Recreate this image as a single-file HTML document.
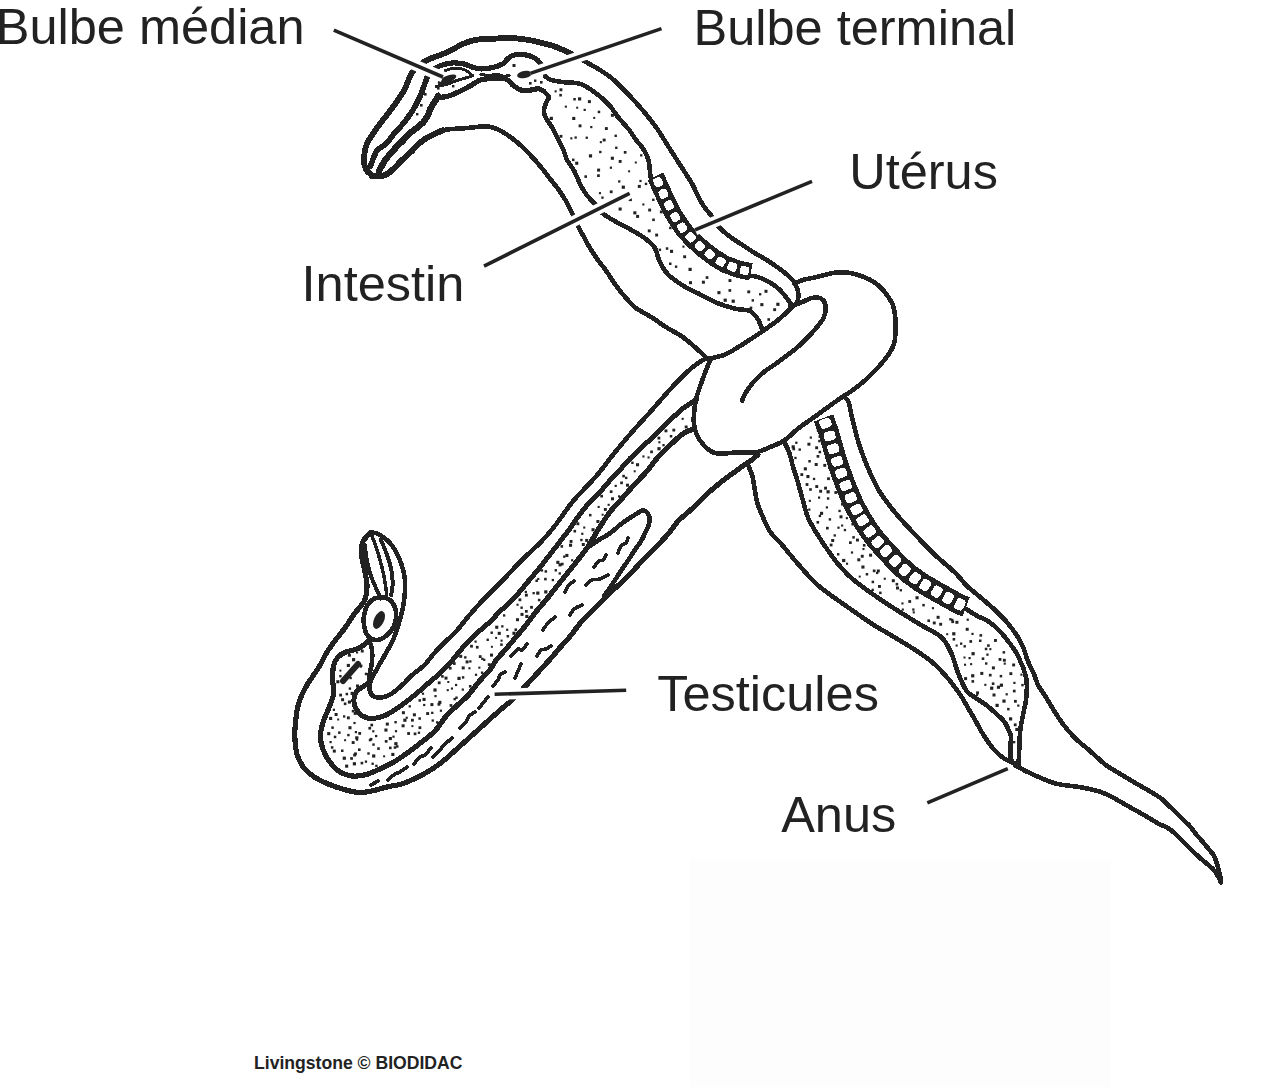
<!DOCTYPE html>
<html><head><meta charset="utf-8"><style>
html,body{margin:0;padding:0;background:#fff;}
svg{display:block;}
text{font-family:"Liberation Sans",sans-serif;fill:#222;}
</style></head><body>
<svg width="1273" height="1087" viewBox="0 0 1273 1087">
<rect width="1273" height="1087" fill="#fff"/><rect x="690" y="859" width="421" height="228" fill="#fdfdfd"/>
<g fill="#222"><rect x="554.6" y="90.3" width="2.1" height="2.1"/><rect x="559.5" y="88.3" width="2.9" height="2.9"/><rect x="559.3" y="93.9" width="2.6" height="2.6"/><rect x="573.3" y="98.0" width="2.5" height="2.5"/><rect x="578.0" y="97.3" width="3.2" height="3.2"/><rect x="587.9" y="100.1" width="3.0" height="3.0"/><rect x="564.8" y="105.6" width="2.1" height="2.1"/><rect x="576.2" y="106.7" width="2.0" height="2.0"/><rect x="583.6" y="108.8" width="2.2" height="2.2"/><rect x="597.7" y="110.7" width="2.5" height="2.5"/><rect x="549.7" y="116.8" width="3.2" height="3.2"/><rect x="572.2" y="116.9" width="3.1" height="3.1"/><rect x="578.6" y="124.4" width="2.9" height="2.9"/><rect x="593.2" y="116.9" width="2.0" height="2.0"/><rect x="610.9" y="113.8" width="3.0" height="3.0"/><rect x="559.6" y="134.9" width="2.8" height="2.8"/><rect x="574.5" y="136.4" width="2.3" height="2.3"/><rect x="590.2" y="126.0" width="2.2" height="2.2"/><rect x="604.9" y="127.1" width="2.9" height="2.9"/><rect x="614.5" y="134.6" width="2.4" height="2.4"/><rect x="570.3" y="137.3" width="2.1" height="2.1"/><rect x="585.6" y="136.6" width="2.3" height="2.3"/><rect x="599.8" y="141.1" width="2.1" height="2.1"/><rect x="602.7" y="138.6" width="2.9" height="2.9"/><rect x="615.1" y="146.6" width="2.4" height="2.4"/><rect x="572.0" y="158.6" width="2.5" height="2.5"/><rect x="588.9" y="154.3" width="3.2" height="3.2"/><rect x="599.1" y="150.8" width="2.4" height="2.4"/><rect x="610.8" y="156.7" width="3.1" height="3.1"/><rect x="623.8" y="151.0" width="2.7" height="2.7"/><rect x="640.1" y="154.2" width="2.3" height="2.3"/><rect x="575.2" y="161.7" width="3.1" height="3.1"/><rect x="597.1" y="168.6" width="3.0" height="3.0"/><rect x="609.8" y="166.6" width="2.2" height="2.2"/><rect x="618.7" y="160.0" width="2.9" height="2.9"/><rect x="634.8" y="161.5" width="2.0" height="2.0"/><rect x="584.4" y="175.3" width="2.6" height="2.6"/><rect x="597.1" y="174.3" width="2.7" height="2.7"/><rect x="618.1" y="180.3" width="2.3" height="2.3"/><rect x="628.1" y="170.3" width="2.0" height="2.0"/><rect x="639.4" y="179.9" width="2.2" height="2.2"/><rect x="598.9" y="192.1" width="2.1" height="2.1"/><rect x="609.8" y="190.4" width="2.8" height="2.8"/><rect x="621.7" y="185.6" width="3.2" height="3.2"/><rect x="637.8" y="184.9" width="3.0" height="3.0"/><rect x="644.8" y="182.7" width="2.4" height="2.4"/><rect x="653.7" y="191.0" width="3.2" height="3.2"/><rect x="601.3" y="196.5" width="2.3" height="2.3"/><rect x="608.9" y="201.5" width="2.1" height="2.1"/><rect x="628.7" y="197.9" width="3.2" height="3.2"/><rect x="642.3" y="203.4" width="2.1" height="2.1"/><rect x="652.1" y="198.6" width="2.4" height="2.4"/><rect x="605.2" y="203.2" width="2.5" height="2.5"/><rect x="618.6" y="207.5" width="3.1" height="3.1"/><rect x="633.3" y="211.3" width="3.1" height="3.1"/><rect x="648.2" y="208.6" width="2.9" height="2.9"/><rect x="659.9" y="210.5" width="2.8" height="2.8"/><rect x="636.1" y="214.9" width="3.0" height="3.0"/><rect x="652.2" y="218.5" width="2.6" height="2.6"/><rect x="647.8" y="229.4" width="2.9" height="2.9"/><rect x="655.2" y="233.6" width="2.9" height="2.9"/><rect x="669.1" y="226.7" width="2.5" height="2.5"/><rect x="665.8" y="247.3" width="2.5" height="2.5"/><rect x="682.4" y="245.6" width="2.1" height="2.1"/><rect x="658.7" y="248.6" width="2.4" height="2.4"/><rect x="670.0" y="249.8" width="3.1" height="3.1"/><rect x="683.2" y="255.3" width="2.9" height="2.9"/><rect x="669.0" y="262.5" width="2.5" height="2.5"/><rect x="674.9" y="265.5" width="2.4" height="2.4"/><rect x="688.5" y="267.8" width="3.2" height="3.2"/><rect x="689.0" y="281.2" width="3.0" height="3.0"/><rect x="701.9" y="280.7" width="3.0" height="3.0"/><rect x="705.7" y="276.2" width="2.7" height="2.7"/><rect x="728.5" y="279.1" width="2.9" height="2.9"/><rect x="717.4" y="291.1" width="3.1" height="3.1"/><rect x="728.5" y="289.1" width="2.7" height="2.7"/><rect x="747.3" y="290.4" width="2.9" height="2.9"/><rect x="759.0" y="293.1" width="2.3" height="2.3"/><rect x="764.5" y="289.8" width="3.0" height="3.0"/><rect x="723.6" y="298.6" width="3.2" height="3.2"/><rect x="731.6" y="299.6" width="3.2" height="3.2"/><rect x="751.6" y="299.2" width="2.4" height="2.4"/><rect x="760.3" y="303.1" width="3.1" height="3.1"/><rect x="776.3" y="302.7" width="3.2" height="3.2"/><rect x="749.7" y="306.6" width="2.6" height="2.6"/><rect x="773.2" y="308.2" width="2.9" height="2.9"/><rect x="767.4" y="318.2" width="2.6" height="2.6"/><rect x="816.8" y="428.8" width="2.9" height="2.9"/><rect x="809.7" y="436.5" width="2.2" height="2.2"/><rect x="818.5" y="435.3" width="2.5" height="2.5"/><rect x="791.6" y="445.3" width="3.2" height="3.2"/><rect x="795.2" y="441.6" width="2.3" height="2.3"/><rect x="807.4" y="442.7" width="3.0" height="3.0"/><rect x="818.2" y="439.8" width="2.5" height="2.5"/><rect x="792.4" y="447.6" width="2.7" height="2.7"/><rect x="798.5" y="448.4" width="2.4" height="2.4"/><rect x="815.2" y="446.3" width="2.9" height="2.9"/><rect x="818.6" y="450.8" width="2.5" height="2.5"/><rect x="794.3" y="456.8" width="2.3" height="2.3"/><rect x="808.3" y="460.0" width="2.5" height="2.5"/><rect x="816.6" y="455.0" width="2.7" height="2.7"/><rect x="803.8" y="467.3" width="3.1" height="3.1"/><rect x="814.7" y="463.0" width="3.0" height="3.0"/><rect x="823.3" y="463.9" width="2.9" height="2.9"/><rect x="800.4" y="473.2" width="2.8" height="2.8"/><rect x="806.4" y="475.0" width="3.1" height="3.1"/><rect x="812.9" y="477.8" width="2.3" height="2.3"/><rect x="827.1" y="477.3" width="2.8" height="2.8"/><rect x="834.8" y="478.1" width="2.1" height="2.1"/><rect x="805.6" y="483.1" width="2.8" height="2.8"/><rect x="815.3" y="485.1" width="2.9" height="2.9"/><rect x="824.1" y="486.7" width="2.9" height="2.9"/><rect x="834.7" y="481.3" width="2.8" height="2.8"/><rect x="809.2" y="488.2" width="2.6" height="2.6"/><rect x="819.2" y="489.8" width="2.9" height="2.9"/><rect x="826.5" y="490.2" width="3.2" height="3.2"/><rect x="834.4" y="491.1" width="2.8" height="2.8"/><rect x="808.8" y="499.8" width="2.1" height="2.1"/><rect x="818.0" y="496.5" width="2.2" height="2.2"/><rect x="826.9" y="497.3" width="2.4" height="2.4"/><rect x="841.0" y="502.5" width="3.1" height="3.1"/><rect x="808.2" y="508.5" width="2.2" height="2.2"/><rect x="820.0" y="511.8" width="3.1" height="3.1"/><rect x="825.8" y="506.3" width="2.2" height="2.2"/><rect x="838.4" y="509.8" width="2.3" height="2.3"/><rect x="818.7" y="514.7" width="2.4" height="2.4"/><rect x="828.7" y="518.2" width="2.4" height="2.4"/><rect x="839.5" y="515.3" width="3.0" height="3.0"/><rect x="845.8" y="517.1" width="2.1" height="2.1"/><rect x="816.5" y="521.0" width="2.6" height="2.6"/><rect x="826.0" y="526.8" width="2.7" height="2.7"/><rect x="837.4" y="526.6" width="2.2" height="2.2"/><rect x="841.1" y="524.5" width="2.1" height="2.1"/><rect x="851.4" y="522.9" width="2.6" height="2.6"/><rect x="833.6" y="534.3" width="2.3" height="2.3"/><rect x="843.8" y="528.9" width="2.3" height="2.3"/><rect x="852.3" y="536.1" width="2.5" height="2.5"/><rect x="829.7" y="543.6" width="2.8" height="2.8"/><rect x="831.2" y="539.0" width="3.0" height="3.0"/><rect x="849.0" y="541.3" width="2.7" height="2.7"/><rect x="856.0" y="538.6" width="2.9" height="2.9"/><rect x="862.9" y="544.0" width="2.6" height="2.6"/><rect x="837.0" y="553.1" width="2.4" height="2.4"/><rect x="850.9" y="551.4" width="2.2" height="2.2"/><rect x="862.4" y="548.0" width="2.1" height="2.1"/><rect x="842.1" y="558.9" width="3.2" height="3.2"/><rect x="857.3" y="558.3" width="3.0" height="3.0"/><rect x="860.8" y="554.8" width="2.9" height="2.9"/><rect x="869.1" y="553.7" width="3.0" height="3.0"/><rect x="846.0" y="562.7" width="2.1" height="2.1"/><rect x="861.4" y="565.5" width="3.1" height="3.1"/><rect x="872.8" y="569.5" width="2.7" height="2.7"/><rect x="876.9" y="569.5" width="2.9" height="2.9"/><rect x="858.7" y="575.6" width="2.0" height="2.0"/><rect x="865.7" y="573.0" width="2.5" height="2.5"/><rect x="876.0" y="571.8" width="2.3" height="2.3"/><rect x="883.7" y="577.7" width="2.1" height="2.1"/><rect x="871.6" y="580.7" width="2.5" height="2.5"/><rect x="878.0" y="585.0" width="2.9" height="2.9"/><rect x="891.8" y="579.2" width="3.0" height="3.0"/><rect x="895.6" y="582.9" width="2.6" height="2.6"/><rect x="871.6" y="588.7" width="2.3" height="2.3"/><rect x="879.1" y="591.6" width="2.5" height="2.5"/><rect x="896.0" y="586.5" width="3.0" height="3.0"/><rect x="899.7" y="589.1" width="2.3" height="2.3"/><rect x="901.4" y="602.4" width="2.1" height="2.1"/><rect x="908.3" y="600.1" width="2.8" height="2.8"/><rect x="915.5" y="596.2" width="3.1" height="3.1"/><rect x="901.8" y="608.5" width="2.1" height="2.1"/><rect x="912.2" y="608.4" width="2.3" height="2.3"/><rect x="922.3" y="603.9" width="2.5" height="2.5"/><rect x="931.9" y="607.1" width="2.1" height="2.1"/><rect x="912.7" y="611.3" width="2.1" height="2.1"/><rect x="927.4" y="619.4" width="2.6" height="2.6"/><rect x="936.6" y="615.8" width="3.0" height="3.0"/><rect x="949.2" y="618.1" width="2.4" height="2.4"/><rect x="951.1" y="618.8" width="2.3" height="2.3"/><rect x="966.6" y="618.6" width="2.2" height="2.2"/><rect x="932.8" y="621.5" width="2.9" height="2.9"/><rect x="939.2" y="622.8" width="2.9" height="2.9"/><rect x="951.3" y="620.3" width="2.8" height="2.8"/><rect x="955.4" y="620.8" width="3.0" height="3.0"/><rect x="946.2" y="633.2" width="2.0" height="2.0"/><rect x="952.2" y="632.2" width="3.2" height="3.2"/><rect x="965.7" y="627.8" width="3.0" height="3.0"/><rect x="971.4" y="632.8" width="2.2" height="2.2"/><rect x="979.5" y="634.1" width="2.6" height="2.6"/><rect x="952.6" y="638.0" width="2.6" height="2.6"/><rect x="960.0" y="642.5" width="2.3" height="2.3"/><rect x="969.4" y="640.1" width="2.7" height="2.7"/><rect x="979.0" y="639.5" width="2.5" height="2.5"/><rect x="987.1" y="644.3" width="2.6" height="2.6"/><rect x="994.0" y="639.0" width="2.9" height="2.9"/><rect x="955.6" y="644.5" width="2.1" height="2.1"/><rect x="963.5" y="645.1" width="2.4" height="2.4"/><rect x="971.5" y="652.1" width="3.2" height="3.2"/><rect x="984.8" y="647.7" width="2.5" height="2.5"/><rect x="989.3" y="648.1" width="2.1" height="2.1"/><rect x="1002.6" y="651.1" width="2.5" height="2.5"/><rect x="963.5" y="656.5" width="2.0" height="2.0"/><rect x="968.5" y="657.0" width="2.2" height="2.2"/><rect x="981.7" y="657.4" width="2.6" height="2.6"/><rect x="986.3" y="653.5" width="2.3" height="2.3"/><rect x="998.6" y="658.0" width="2.8" height="2.8"/><rect x="1002.9" y="658.8" width="2.9" height="2.9"/><rect x="964.0" y="663.7" width="2.1" height="2.1"/><rect x="970.1" y="663.1" width="2.1" height="2.1"/><rect x="985.0" y="662.3" width="2.4" height="2.4"/><rect x="991.9" y="666.4" width="3.0" height="3.0"/><rect x="1003.7" y="662.6" width="2.1" height="2.1"/><rect x="1012.2" y="663.5" width="2.9" height="2.9"/><rect x="971.1" y="674.2" width="3.2" height="3.2"/><rect x="980.3" y="671.9" width="3.0" height="3.0"/><rect x="988.9" y="673.8" width="2.7" height="2.7"/><rect x="999.7" y="674.9" width="2.5" height="2.5"/><rect x="1009.4" y="672.2" width="2.9" height="2.9"/><rect x="1020.4" y="673.6" width="2.1" height="2.1"/><rect x="964.1" y="677.1" width="3.0" height="3.0"/><rect x="971.5" y="680.1" width="2.6" height="2.6"/><rect x="984.3" y="683.8" width="2.1" height="2.1"/><rect x="991.8" y="682.4" width="2.6" height="2.6"/><rect x="999.8" y="683.6" width="3.2" height="3.2"/><rect x="1013.3" y="681.8" width="2.2" height="2.2"/><rect x="1021.3" y="683.9" width="2.4" height="2.4"/><rect x="976.1" y="691.4" width="2.9" height="2.9"/><rect x="990.1" y="686.6" width="3.2" height="3.2"/><rect x="996.9" y="685.7" width="3.1" height="3.1"/><rect x="1005.6" y="693.2" width="2.2" height="2.2"/><rect x="1012.9" y="689.7" width="2.7" height="2.7"/><rect x="976.0" y="694.1" width="2.1" height="2.1"/><rect x="992.5" y="693.5" width="3.0" height="3.0"/><rect x="1002.4" y="699.5" width="3.2" height="3.2"/><rect x="1014.0" y="699.9" width="2.8" height="2.8"/><rect x="995.5" y="703.8" width="3.2" height="3.2"/><rect x="1007.1" y="707.9" width="2.5" height="2.5"/><rect x="1017.2" y="704.5" width="2.2" height="2.2"/><rect x="1009.0" y="717.3" width="3.2" height="3.2"/><rect x="1013.8" y="723.4" width="2.8" height="2.8"/><rect x="1015.3" y="727.9" width="3.1" height="3.1"/><rect x="1013.0" y="741.0" width="2.3" height="2.3"/><rect x="681.6" y="417.8" width="2.1" height="2.1"/><rect x="664.5" y="429.4" width="2.9" height="2.9"/><rect x="672.4" y="428.7" width="2.8" height="2.8"/><rect x="684.7" y="425.5" width="2.9" height="2.9"/><rect x="657.5" y="436.7" width="2.8" height="2.8"/><rect x="669.8" y="435.0" width="2.5" height="2.5"/><rect x="658.3" y="441.2" width="2.1" height="2.1"/><rect x="662.4" y="444.0" width="2.3" height="2.3"/><rect x="650.2" y="450.5" width="2.7" height="2.7"/><rect x="657.4" y="447.1" width="3.2" height="3.2"/><rect x="642.4" y="455.4" width="2.1" height="2.1"/><rect x="647.5" y="456.4" width="2.1" height="2.1"/><rect x="631.2" y="461.6" width="2.4" height="2.4"/><rect x="636.0" y="463.2" width="3.1" height="3.1"/><rect x="622.3" y="474.8" width="2.6" height="2.6"/><rect x="633.7" y="470.3" width="2.0" height="2.0"/><rect x="620.2" y="481.5" width="2.7" height="2.7"/><rect x="625.0" y="476.7" width="2.4" height="2.4"/><rect x="614.6" y="484.8" width="2.2" height="2.2"/><rect x="626.0" y="483.7" width="3.0" height="3.0"/><rect x="600.3" y="494.8" width="2.7" height="2.7"/><rect x="609.8" y="490.3" width="2.7" height="2.7"/><rect x="618.0" y="495.3" width="2.2" height="2.2"/><rect x="607.6" y="503.8" width="2.1" height="2.1"/><rect x="611.0" y="497.3" width="3.0" height="3.0"/><rect x="597.6" y="505.9" width="2.1" height="2.1"/><rect x="603.9" y="508.0" width="2.9" height="2.9"/><rect x="589.0" y="513.9" width="2.5" height="2.5"/><rect x="601.6" y="513.7" width="2.0" height="2.0"/><rect x="576.4" y="522.3" width="2.9" height="2.9"/><rect x="583.2" y="526.5" width="2.1" height="2.1"/><rect x="596.4" y="520.0" width="3.0" height="3.0"/><rect x="573.5" y="529.9" width="2.6" height="2.6"/><rect x="581.2" y="532.7" width="2.2" height="2.2"/><rect x="591.5" y="528.2" width="3.1" height="3.1"/><rect x="569.6" y="540.0" width="2.9" height="2.9"/><rect x="580.2" y="538.8" width="2.4" height="2.4"/><rect x="585.2" y="538.9" width="3.0" height="3.0"/><rect x="560.5" y="545.1" width="2.6" height="2.6"/><rect x="569.0" y="543.7" width="3.1" height="3.1"/><rect x="581.8" y="543.0" width="3.0" height="3.0"/><rect x="563.1" y="555.5" width="2.3" height="2.3"/><rect x="565.3" y="553.9" width="3.1" height="3.1"/><rect x="556.3" y="560.8" width="3.1" height="3.1"/><rect x="560.9" y="562.7" width="2.7" height="2.7"/><rect x="571.1" y="559.2" width="2.1" height="2.1"/><rect x="540.7" y="569.2" width="2.4" height="2.4"/><rect x="554.6" y="569.1" width="2.4" height="2.4"/><rect x="558.5" y="563.3" width="3.1" height="3.1"/><rect x="537.2" y="577.9" width="2.1" height="2.1"/><rect x="544.6" y="570.2" width="2.5" height="2.5"/><rect x="558.6" y="572.3" width="2.3" height="2.3"/><rect x="535.4" y="579.5" width="2.5" height="2.5"/><rect x="544.1" y="577.8" width="2.6" height="2.6"/><rect x="551.7" y="578.9" width="2.3" height="2.3"/><rect x="524.7" y="590.8" width="2.2" height="2.2"/><rect x="532.5" y="592.0" width="2.3" height="2.3"/><rect x="536.2" y="591.5" width="3.2" height="3.2"/><rect x="544.2" y="590.3" width="3.2" height="3.2"/><rect x="518.5" y="598.4" width="2.8" height="2.8"/><rect x="524.9" y="593.7" width="2.9" height="2.9"/><rect x="537.9" y="598.8" width="2.5" height="2.5"/><rect x="516.5" y="603.7" width="2.1" height="2.1"/><rect x="520.4" y="606.5" width="2.4" height="2.4"/><rect x="530.1" y="605.9" width="2.8" height="2.8"/><rect x="520.5" y="612.9" width="3.0" height="3.0"/><rect x="525.0" y="610.0" width="2.7" height="2.7"/><rect x="503.0" y="614.3" width="2.3" height="2.3"/><rect x="516.0" y="618.2" width="3.0" height="3.0"/><rect x="525.3" y="614.9" width="3.1" height="3.1"/><rect x="495.2" y="625.7" width="3.1" height="3.1"/><rect x="501.2" y="625.2" width="2.3" height="2.3"/><rect x="506.1" y="628.7" width="2.2" height="2.2"/><rect x="514.5" y="628.4" width="2.6" height="2.6"/><rect x="490.5" y="631.5" width="2.4" height="2.4"/><rect x="497.7" y="631.8" width="3.1" height="3.1"/><rect x="506.6" y="635.0" width="2.5" height="2.5"/><rect x="512.4" y="631.7" width="3.2" height="3.2"/><rect x="474.5" y="640.5" width="2.2" height="2.2"/><rect x="486.5" y="638.6" width="2.4" height="2.4"/><rect x="495.1" y="636.9" width="2.0" height="2.0"/><rect x="500.5" y="639.6" width="2.1" height="2.1"/><rect x="360.8" y="649.6" width="2.9" height="2.9"/><rect x="470.1" y="644.8" width="2.8" height="2.8"/><rect x="475.9" y="645.9" width="2.7" height="2.7"/><rect x="490.9" y="645.8" width="2.0" height="2.0"/><rect x="500.2" y="643.4" width="2.5" height="2.5"/><rect x="347.9" y="653.7" width="3.0" height="3.0"/><rect x="356.0" y="651.4" width="2.1" height="2.1"/><rect x="459.2" y="654.8" width="3.0" height="3.0"/><rect x="464.1" y="656.2" width="2.4" height="2.4"/><rect x="478.8" y="655.2" width="2.8" height="2.8"/><rect x="481.2" y="657.7" width="2.3" height="2.3"/><rect x="490.0" y="653.6" width="3.0" height="3.0"/><rect x="346.8" y="663.9" width="3.1" height="3.1"/><rect x="352.0" y="658.1" width="3.2" height="3.2"/><rect x="359.9" y="664.5" width="2.5" height="2.5"/><rect x="453.0" y="662.2" width="2.7" height="2.7"/><rect x="465.6" y="660.4" width="3.0" height="3.0"/><rect x="469.2" y="660.3" width="2.3" height="2.3"/><rect x="483.1" y="658.7" width="2.3" height="2.3"/><rect x="487.8" y="663.2" width="2.8" height="2.8"/><rect x="339.4" y="669.6" width="2.0" height="2.0"/><rect x="347.0" y="672.9" width="2.3" height="2.3"/><rect x="359.6" y="665.4" width="2.3" height="2.3"/><rect x="448.8" y="666.8" width="2.8" height="2.8"/><rect x="461.7" y="666.4" width="3.0" height="3.0"/><rect x="468.4" y="667.2" width="2.1" height="2.1"/><rect x="478.3" y="666.6" width="2.1" height="2.1"/><rect x="480.9" y="671.5" width="2.4" height="2.4"/><rect x="339.2" y="675.0" width="2.4" height="2.4"/><rect x="347.7" y="675.0" width="2.1" height="2.1"/><rect x="349.5" y="676.9" width="2.3" height="2.3"/><rect x="364.8" y="672.7" width="2.5" height="2.5"/><rect x="441.1" y="675.1" width="2.6" height="2.6"/><rect x="444.5" y="676.6" width="3.0" height="3.0"/><rect x="457.4" y="676.8" width="3.2" height="3.2"/><rect x="461.9" y="676.2" width="2.4" height="2.4"/><rect x="474.9" y="673.7" width="2.2" height="2.2"/><rect x="336.3" y="680.2" width="3.1" height="3.1"/><rect x="348.7" y="687.4" width="2.4" height="2.4"/><rect x="356.0" y="684.5" width="3.1" height="3.1"/><rect x="437.8" y="681.4" width="2.8" height="2.8"/><rect x="447.3" y="681.0" width="2.0" height="2.0"/><rect x="455.0" y="683.9" width="2.2" height="2.2"/><rect x="468.9" y="685.0" width="2.6" height="2.6"/><rect x="339.2" y="693.7" width="2.8" height="2.8"/><rect x="345.6" y="692.8" width="2.5" height="2.5"/><rect x="350.6" y="691.8" width="3.2" height="3.2"/><rect x="421.9" y="692.6" width="2.2" height="2.2"/><rect x="433.4" y="688.4" width="3.2" height="3.2"/><rect x="446.7" y="689.1" width="2.1" height="2.1"/><rect x="450.9" y="687.5" width="2.1" height="2.1"/><rect x="461.7" y="688.5" width="2.2" height="2.2"/><rect x="341.1" y="698.2" width="3.0" height="3.0"/><rect x="347.9" y="700.5" width="3.1" height="3.1"/><rect x="418.5" y="699.2" width="2.5" height="2.5"/><rect x="422.5" y="697.9" width="3.1" height="3.1"/><rect x="434.4" y="695.0" width="2.2" height="2.2"/><rect x="438.3" y="700.8" width="3.1" height="3.1"/><rect x="453.5" y="697.9" width="2.4" height="2.4"/><rect x="455.3" y="696.5" width="2.4" height="2.4"/><rect x="332.8" y="708.7" width="2.2" height="2.2"/><rect x="343.8" y="702.5" width="2.6" height="2.6"/><rect x="408.6" y="705.2" width="2.3" height="2.3"/><rect x="423.1" y="703.9" width="2.2" height="2.2"/><rect x="430.4" y="703.1" width="3.0" height="3.0"/><rect x="437.5" y="702.8" width="2.9" height="2.9"/><rect x="449.6" y="704.1" width="2.7" height="2.7"/><rect x="334.6" y="713.0" width="3.0" height="3.0"/><rect x="343.0" y="715.3" width="2.3" height="2.3"/><rect x="351.8" y="709.8" width="2.6" height="2.6"/><rect x="353.7" y="711.8" width="3.1" height="3.1"/><rect x="401.9" y="711.2" width="3.0" height="3.0"/><rect x="405.7" y="716.7" width="2.1" height="2.1"/><rect x="412.9" y="713.3" width="3.0" height="3.0"/><rect x="426.2" y="712.1" width="2.9" height="2.9"/><rect x="431.1" y="711.7" width="2.3" height="2.3"/><rect x="439.8" y="709.6" width="2.2" height="2.2"/><rect x="329.1" y="716.9" width="3.1" height="3.1"/><rect x="337.2" y="718.5" width="2.0" height="2.0"/><rect x="346.9" y="716.4" width="2.9" height="2.9"/><rect x="353.4" y="721.9" width="2.2" height="2.2"/><rect x="370.4" y="723.7" width="2.7" height="2.7"/><rect x="385.8" y="722.6" width="3.0" height="3.0"/><rect x="394.4" y="721.0" width="2.4" height="2.4"/><rect x="403.3" y="718.6" width="3.2" height="3.2"/><rect x="411.0" y="718.8" width="2.8" height="2.8"/><rect x="418.4" y="717.3" width="2.5" height="2.5"/><rect x="431.6" y="719.4" width="2.3" height="2.3"/><rect x="436.0" y="721.2" width="2.3" height="2.3"/><rect x="331.3" y="726.4" width="2.5" height="2.5"/><rect x="338.1" y="731.4" width="2.5" height="2.5"/><rect x="348.4" y="726.2" width="3.1" height="3.1"/><rect x="354.8" y="731.0" width="2.2" height="2.2"/><rect x="368.4" y="726.9" width="2.7" height="2.7"/><rect x="372.2" y="730.2" width="2.2" height="2.2"/><rect x="384.4" y="728.5" width="3.1" height="3.1"/><rect x="394.9" y="730.1" width="2.2" height="2.2"/><rect x="401.6" y="724.3" width="3.0" height="3.0"/><rect x="411.4" y="725.1" width="2.0" height="2.0"/><rect x="418.5" y="726.3" width="2.8" height="2.8"/><rect x="327.2" y="732.1" width="3.1" height="3.1"/><rect x="333.8" y="735.7" width="2.5" height="2.5"/><rect x="347.2" y="733.9" width="2.4" height="2.4"/><rect x="355.2" y="736.3" width="3.2" height="3.2"/><rect x="358.3" y="732.0" width="2.8" height="2.8"/><rect x="369.8" y="737.9" width="2.6" height="2.6"/><rect x="375.0" y="734.9" width="2.3" height="2.3"/><rect x="388.8" y="737.0" width="3.1" height="3.1"/><rect x="392.4" y="735.6" width="2.2" height="2.2"/><rect x="407.2" y="732.1" width="2.8" height="2.8"/><rect x="413.7" y="732.5" width="2.7" height="2.7"/><rect x="417.8" y="731.6" width="2.3" height="2.3"/><rect x="329.5" y="741.0" width="2.2" height="2.2"/><rect x="344.1" y="739.2" width="2.0" height="2.0"/><rect x="351.7" y="741.1" width="2.9" height="2.9"/><rect x="356.1" y="738.8" width="2.0" height="2.0"/><rect x="368.8" y="738.8" width="2.5" height="2.5"/><rect x="372.3" y="743.4" width="2.4" height="2.4"/><rect x="384.8" y="740.0" width="2.7" height="2.7"/><rect x="394.3" y="742.1" width="3.2" height="3.2"/><rect x="396.0" y="745.2" width="2.5" height="2.5"/><rect x="330.9" y="746.2" width="2.5" height="2.5"/><rect x="332.8" y="749.6" width="3.0" height="3.0"/><rect x="341.0" y="749.5" width="2.5" height="2.5"/><rect x="354.1" y="752.4" width="2.8" height="2.8"/><rect x="358.0" y="748.4" width="2.6" height="2.6"/><rect x="367.3" y="752.3" width="2.4" height="2.4"/><rect x="377.2" y="747.3" width="2.6" height="2.6"/><rect x="389.0" y="746.6" width="2.6" height="2.6"/><rect x="393.7" y="746.3" width="2.5" height="2.5"/><rect x="342.7" y="756.6" width="3.2" height="3.2"/><rect x="350.2" y="757.1" width="2.7" height="2.7"/><rect x="353.2" y="753.6" width="2.9" height="2.9"/><rect x="364.8" y="760.5" width="2.3" height="2.3"/><rect x="372.1" y="754.4" width="3.2" height="3.2"/><rect x="383.1" y="755.3" width="2.0" height="2.0"/><rect x="391.3" y="752.9" width="3.1" height="3.1"/><rect x="345.1" y="764.6" width="3.1" height="3.1"/><rect x="352.8" y="762.2" width="3.2" height="3.2"/><rect x="360.6" y="761.8" width="2.6" height="2.6"/><rect x="371.5" y="762.6" width="2.3" height="2.3"/><rect x="375.2" y="764.7" width="2.4" height="2.4"/></g>
<g fill="none" stroke="#222" stroke-linecap="round" stroke-linejoin="round" shape-rendering="crispEdges">
<path d="M374.0,176.5 C372.9,175.7 369.1,173.4 367.5,171.5 C365.9,169.6 365.1,167.2 364.5,165.0 C363.9,162.8 364.1,160.3 364.1,158.0 C364.2,155.7 364.4,153.3 364.8,151.0 C365.2,148.7 365.9,146.2 366.8,144.0 C367.8,141.8 369.1,139.8 370.5,137.5 C371.9,135.2 373.6,132.5 375.4,130.0 C377.1,127.5 379.1,125.0 381.0,122.5 C382.9,120.0 385.1,117.5 387.0,115.0 C388.9,112.5 390.7,110.0 392.5,107.5 C394.3,105.0 395.9,102.9 397.9,100.0 C399.9,97.1 402.6,93.3 404.4,90.0 C406.2,86.7 407.3,82.8 408.5,80.0 C409.7,77.2 410.6,75.1 411.8,73.0 C413.1,70.9 414.2,69.2 416.0,67.5 C417.8,65.8 420.2,64.2 422.5,62.8 C424.8,61.3 427.1,60.1 430.0,58.8 C432.9,57.5 436.7,56.5 440.0,55.2 C443.3,53.9 446.7,52.4 450.0,50.8 C453.3,49.2 457.2,46.8 460.0,45.4 C462.8,44.0 464.5,43.3 467.0,42.4 C469.5,41.5 472.0,40.6 475.0,40.0 C478.0,39.4 481.7,39.1 485.0,38.9 C488.3,38.7 491.2,38.9 495.0,38.7 C498.8,38.5 503.0,37.7 508.0,37.8 C513.0,37.9 519.7,38.6 525.0,39.4 C530.3,40.2 535.0,41.2 540.0,42.4 C545.0,43.6 549.8,44.8 555.0,46.6 C560.2,48.5 568.3,52.4 571.0,53.5" stroke-width="5.8"/><path d="M555.0,46.6 C557.7,47.8 566.0,51.0 571.0,53.5 C576.0,56.0 580.2,58.8 585.0,61.5 C589.8,64.2 595.2,67.0 600.0,70.0 C604.8,73.0 608.6,75.5 613.5,79.7 C618.4,83.9 624.0,89.9 629.3,95.4 C634.5,101.0 640.2,107.2 645.0,113.0 C649.8,118.8 654.2,124.5 658.0,130.0 C661.8,135.5 664.8,141.0 668.0,146.0 C671.2,151.0 674.2,155.6 677.0,160.0 C679.8,164.4 682.4,168.4 685.0,172.5 C687.6,176.6 690.3,180.6 692.5,184.5 C694.7,188.4 696.1,192.3 698.0,196.0 C699.9,199.7 701.7,203.1 704.0,206.5 C706.3,209.9 709.3,212.8 711.8,216.2 C714.3,219.6 716.0,223.6 719.0,227.0 C722.0,230.4 725.9,233.6 729.7,236.5 C733.5,239.4 737.7,241.9 741.7,244.5 C745.7,247.1 749.6,249.8 753.6,252.3 C757.6,254.8 762.0,257.0 766.0,259.5 C770.0,262.0 774.5,265.2 777.7,267.5 C780.9,269.8 782.9,271.2 785.2,273.2 C787.6,275.1 790.2,277.6 791.8,279.2 C793.4,280.8 794.2,282.4 794.7,283.0" stroke-width="4.6"/><path d="M372.2,176.1 C373.8,176.1 379.2,176.3 381.9,175.9 C384.6,175.5 386.1,174.8 388.2,173.4 C390.3,172.1 392.2,170.0 394.5,167.8 C396.8,165.6 399.2,162.9 402.0,160.2 C404.8,157.5 408.2,154.4 411.4,151.4 C414.5,148.4 417.8,144.5 420.9,142.0 C424.0,139.5 426.4,138.1 430.0,136.2 C433.6,134.2 440.5,131.3 442.6,130.3" stroke-width="6.0"/><path d="M430.0,136.2 C432.1,135.2 438.4,131.5 442.6,130.3 C446.8,129.1 450.9,129.2 455.1,128.8 C459.3,128.4 463.1,128.4 467.7,128.0 C472.3,127.6 478.6,126.6 482.8,126.5 C487.0,126.4 489.5,126.5 492.8,127.5 C496.1,128.4 499.8,130.4 502.9,132.2 C506.0,133.9 508.8,135.8 511.7,138.0 C514.6,140.2 517.4,142.3 520.5,145.2 C523.6,148.1 527.2,151.7 530.6,155.3 C534.0,158.9 537.5,162.8 540.6,166.6 C543.7,170.4 546.5,174.1 549.4,177.9 C552.3,181.7 555.5,185.4 558.2,189.2 C560.9,193.0 563.4,196.6 565.7,200.6 C568.0,204.6 570.0,208.8 572.0,213.1 C574.0,217.3 576.1,222.3 578.0,226.1 C579.9,229.8 581.0,231.8 583.1,235.6 C585.2,239.4 588.0,244.9 590.5,248.9 C593.0,252.9 595.3,256.5 597.8,259.9 C600.2,263.3 601.9,264.9 605.2,269.5 C608.5,274.1 614.0,282.9 617.6,287.8 C621.2,292.7 623.7,295.5 626.8,298.9 C629.9,302.3 632.9,305.7 636.0,308.1 C639.1,310.6 642.1,311.8 645.2,313.6 C648.3,315.4 651.3,317.1 654.4,319.1 C657.5,321.1 660.5,323.6 663.6,325.6 C666.7,327.6 669.7,329.3 672.8,331.1 C675.9,332.9 678.4,333.9 682.0,336.5 C685.6,339.1 690.4,343.1 694.3,346.5 C698.2,349.9 703.5,355.0 705.3,356.7" stroke-width="4.6"/><path d="M370.5,166.0 C371.0,164.7 372.4,160.7 373.5,158.0 C374.6,155.3 375.5,152.2 377.3,150.0 C379.1,147.8 382.5,146.7 384.5,145.0 C386.5,143.3 387.6,142.0 389.3,140.0 C391.0,138.0 392.4,135.7 394.5,133.1 C396.6,130.5 399.8,127.5 402.2,124.7 C404.6,121.9 406.7,119.1 408.6,116.4 C410.5,113.7 412.1,111.5 413.8,108.6 C415.5,105.7 417.4,102.2 418.9,99.0 C420.4,95.8 421.5,92.7 422.8,89.3 C424.1,85.9 425.5,81.3 426.7,78.4 C427.9,75.5 429.4,73.1 430.0,72.0" stroke-width="5.6"/><path d="M379.0,171.0 C380.0,169.2 382.6,164.0 385.0,160.5 C387.4,157.0 390.5,153.4 393.6,150.0 C396.7,146.6 401.0,142.6 403.5,140.0 C406.0,137.4 406.7,136.2 408.6,134.4 C410.5,132.6 412.7,131.1 415.1,129.2 C417.5,127.3 420.7,125.1 422.8,122.8 C424.9,120.5 426.7,117.5 428.0,115.1 C429.3,112.7 429.4,110.8 430.5,108.6 C431.6,106.4 433.1,104.3 434.4,102.2 C435.7,100.1 437.6,96.9 438.3,95.8" stroke-width="6.4"/><path d="M481.0,74.5 C482.0,74.6 485.2,75.2 487.0,75.3 C488.8,75.4 490.3,75.3 492.0,75.1 C493.7,74.9 495.1,74.1 497.0,74.3 C498.9,74.5 501.6,76.0 503.6,76.2 C505.6,76.4 508.1,75.6 509.0,75.5" stroke-width="3.2"/><path d="M445.3,70.6 C446.6,70.2 449.9,68.6 453.0,68.4 C456.1,68.2 461.1,68.6 464.0,69.5 C466.9,70.4 469.5,73.2 470.6,73.9" stroke-width="3"/><path d="M436.0,86.5 C437.9,86.1 443.8,85.1 447.5,84.0 C451.2,82.9 455.2,81.1 458.5,80.0 C461.8,78.9 464.9,78.2 467.3,77.5 C469.7,76.8 471.9,75.8 472.8,75.5" stroke-width="3"/><path d="M431.0,74.0 C431.4,73.2 431.4,71.0 433.2,69.5 C435.0,68.0 438.7,66.2 442.0,65.1 C445.3,64.0 449.3,63.1 453.0,62.9 C456.7,62.7 460.7,63.3 464.0,64.0 C467.3,64.7 470.1,66.5 472.8,67.3 C475.6,68.1 477.4,68.8 480.5,68.9 C483.6,69.0 487.8,68.6 491.5,67.8 C495.2,67.0 499.8,65.5 502.5,64.0 C505.2,62.5 506.2,60.0 508.0,58.5 C509.8,57.0 510.8,55.9 513.5,55.2 C516.2,54.6 520.8,54.1 524.5,54.6 C528.2,55.1 532.8,56.9 535.5,58.5 C538.2,60.1 540.1,63.1 541.0,64.0" stroke-width="5.2"/><path d="M437.5,97.5 C439.2,97.3 444.0,97.3 447.5,96.4 C451.0,95.5 455.2,93.5 458.5,92.0 C461.8,90.5 464.6,89.1 467.3,87.6 C470.1,86.1 472.8,84.3 475.0,83.0 C477.2,81.7 477.8,80.8 480.5,80.0 C483.2,79.2 487.3,78.7 491.5,78.5 C495.7,78.3 502.1,77.9 505.8,79.1 C509.5,80.3 510.9,83.9 513.5,85.7 C516.1,87.5 518.5,89.4 521.2,90.1 C524.0,90.8 527.1,90.3 530.0,90.1 C532.9,89.9 536.1,88.6 538.4,88.8 C540.6,89.0 542.6,90.6 543.5,91.0" stroke-width="5.2"/><path d="M543.5,91.0 C544.4,92.0 548.2,95.1 548.7,96.9 C549.2,98.8 547.2,100.2 546.5,102.1 C545.8,103.9 544.7,106.0 544.3,108.0 C543.9,110.0 543.7,111.6 544.3,113.8 C544.9,116.0 546.6,118.9 548.0,121.2 C549.4,123.5 551.0,125.5 552.4,127.8 C553.8,130.1 554.9,132.8 556.1,135.2 C557.3,137.6 558.5,140.1 559.7,142.5 C560.9,144.9 562.2,147.0 563.4,149.9 C564.6,152.8 565.2,156.4 567.1,160.0 C569.0,163.6 572.2,167.3 574.5,171.6 C576.8,175.8 578.7,181.5 580.8,185.5 C582.9,189.5 584.6,192.3 587.1,195.5 C589.6,198.7 593.0,201.6 595.5,204.5 C598.0,207.4 598.3,209.9 602.0,213.0 C605.7,216.1 613.0,220.1 617.9,222.9 C622.8,225.7 626.7,227.3 631.4,230.0 C636.1,232.7 642.2,236.1 646.1,239.2 C650.0,242.2 652.8,244.7 655.0,248.3 C657.2,251.9 657.4,256.7 659.5,261.0 C661.6,265.3 663.9,270.0 667.6,274.0 C671.4,278.0 676.8,281.7 682.0,285.0 C687.2,288.3 693.0,290.8 699.0,293.8 C705.0,296.9 711.5,300.8 717.8,303.3 C724.1,305.8 731.4,307.8 736.7,309.0 C742.0,310.2 746.0,309.3 749.4,310.8 C752.8,312.3 755.1,315.5 757.0,317.9 C758.9,320.3 759.8,323.2 760.7,325.4 C761.6,327.6 762.3,330.2 762.6,331.1" stroke-width="4.6"/><path d="M544.9,76.0 C545.9,76.7 547.8,79.0 551.0,80.0 C554.2,81.0 559.6,81.6 564.2,82.2 C568.9,82.8 574.6,82.4 578.9,83.5 C583.2,84.6 586.5,86.8 590.0,89.0 C593.5,91.2 596.7,93.7 600.0,96.5 C603.3,99.3 607.0,102.5 610.0,106.0 C613.0,109.5 615.1,113.4 618.3,117.4 C621.5,121.4 626.3,126.2 629.3,130.0 C632.2,133.8 633.8,137.0 636.0,140.0 C638.2,143.0 640.5,144.7 642.6,148.0 C644.7,151.3 647.1,155.2 648.4,160.0 C649.7,164.8 650.1,174.2 650.5,177.0" stroke-width="4.6"/><path d="M749.0,276.0 C750.2,276.1 752.8,275.6 756.0,276.5 C759.2,277.4 764.7,279.6 768.3,281.5 C771.9,283.4 774.8,285.4 777.7,288.0 C780.7,290.6 783.8,294.3 786.0,297.0 C788.2,299.7 790.1,302.8 790.9,304.0" stroke-width="4.6"/><path d="M794.7,283.9 C795.6,283.4 798.1,281.8 800.0,281.0 C801.9,280.2 803.4,279.8 806.0,279.2 C808.6,278.6 812.3,278.0 815.4,277.3 C818.5,276.6 821.6,275.8 824.8,275.0 C827.9,274.2 831.1,273.2 834.3,272.8 C837.4,272.4 840.6,272.2 843.7,272.3 C846.8,272.4 849.6,272.7 853.0,273.5 C856.4,274.3 860.5,275.7 863.8,277.0 C867.1,278.3 870.1,279.7 873.0,281.5 C875.9,283.3 878.7,285.5 881.2,288.0 C883.7,290.5 886.1,293.7 888.0,296.5 C889.9,299.3 891.6,301.4 892.8,305.0 C894.0,308.6 894.8,313.6 895.3,317.9 C895.8,322.2 895.7,326.5 895.5,330.8 C895.3,335.1 895.2,339.8 894.1,343.7 C893.0,347.6 891.5,350.1 888.9,354.0 C886.3,357.9 882.5,362.5 878.6,366.8 C874.7,371.1 870.0,375.8 865.7,379.7 C861.4,383.6 857.7,386.5 852.9,390.0 C848.1,393.5 843.0,396.3 836.8,400.7 C830.6,405.1 822.0,411.5 815.6,416.1 C809.2,420.7 803.6,424.2 798.4,428.3 C793.2,432.4 789.0,437.4 784.3,440.5 C779.6,443.6 774.5,445.2 770.1,447.1 C765.7,449.0 761.8,450.9 757.9,451.8 C754.0,452.7 750.9,452.1 746.6,452.3 C742.4,452.5 737.1,452.6 732.4,452.8 C727.7,453.0 722.2,454.2 718.3,453.7 C714.4,453.2 712.0,452.4 708.9,450.0 C705.8,447.6 701.8,443.2 699.4,439.6 C697.0,436.0 695.6,432.1 694.7,428.3 C693.8,424.5 693.5,421.9 693.8,417.0 C694.0,412.1 694.6,405.6 696.2,398.9 C697.8,392.2 701.0,383.6 703.5,376.8 C706.0,370.1 709.7,361.5 710.9,358.4" stroke-width="4.6"/><path d="M794.7,283.9 C795.2,284.8 796.9,287.4 797.5,289.6 C798.1,291.8 798.5,294.9 798.4,297.1 C798.2,299.3 797.5,301.2 796.6,302.8 C795.7,304.4 794.4,305.1 792.8,306.6 C791.2,308.1 789.6,309.7 787.1,312.0 C784.6,314.3 780.8,317.8 777.7,320.3 C774.6,322.8 771.4,324.9 768.3,327.2 C765.2,329.4 762.0,331.7 758.9,333.8 C755.8,335.9 752.5,338.0 749.4,340.0 C746.2,342.0 744.0,343.6 740.0,346.0 C736.0,348.4 730.6,352.2 725.7,354.3 C720.9,356.4 713.4,357.7 710.9,358.4" stroke-width="4.6"/><path d="M790.0,307.0 C791.9,306.2 797.8,303.9 801.3,302.5 C804.8,301.1 807.9,299.1 810.7,298.3 C813.5,297.5 815.9,297.1 818.0,297.5 C820.1,297.9 822.2,298.8 823.5,300.5 C824.8,302.2 825.8,305.1 825.8,308.0 C825.8,310.9 825.2,314.5 823.5,318.0 C821.8,321.5 818.3,325.5 815.4,329.0 C812.5,332.5 809.2,335.8 806.0,339.0 C802.8,342.2 799.5,345.5 796.0,348.5 C792.5,351.5 788.2,354.6 785.0,357.0 C781.8,359.4 780.5,360.4 776.9,363.0 C773.3,365.6 767.6,369.0 763.4,372.5 C759.2,376.0 755.0,380.2 751.8,384.0 C748.6,387.8 745.7,392.7 744.1,395.5 C742.5,398.3 742.5,399.8 742.2,400.7" stroke-width="4.6"/><path d="M748.4,466.0 C749.0,467.6 751.2,471.9 752.2,475.4 C753.2,478.8 753.4,482.1 754.3,486.7 C755.2,491.3 755.9,497.9 757.4,503.1 C758.9,508.3 761.0,512.9 763.2,517.8 C765.4,522.7 767.7,528.2 770.6,532.5 C773.5,536.8 777.7,539.9 780.9,543.6 C784.1,547.3 787.0,550.9 790.0,554.5 C793.0,558.1 794.7,560.2 798.9,565.0 C803.1,569.8 810.2,578.1 815.4,583.0 C820.6,587.9 824.2,590.3 830.0,594.6 C835.8,598.9 843.5,604.1 850.2,608.8 C857.0,613.5 863.8,618.5 870.5,622.9 C877.2,627.3 884.0,631.0 890.7,635.1 C897.4,639.2 904.1,642.8 910.9,647.2 C917.6,651.6 925.1,656.3 931.2,661.4 C937.3,666.5 942.5,672.1 947.3,677.6 C952.1,683.1 956.6,689.5 960.0,694.4 C963.4,699.3 964.9,702.7 967.4,706.9 C969.9,711.1 972.2,715.1 974.7,719.4 C977.2,723.7 979.7,728.7 982.1,732.7 C984.5,736.8 987.0,740.4 989.4,743.7 C991.8,747.0 994.3,750.0 996.8,752.5 C999.3,755.0 1001.8,756.8 1004.2,758.4 C1006.7,760.0 1009.4,761.1 1011.5,762.1 C1013.6,763.1 1016.1,764.1 1017.0,764.5" stroke-width="4.6"/><path d="M784.3,442.4 C785.1,444.0 787.6,447.9 789.0,451.8 C790.4,455.7 791.5,461.4 792.8,466.0 C794.1,470.6 795.4,473.5 797.0,479.1 C798.6,484.7 800.8,492.9 802.6,499.4 C804.5,505.8 805.7,512.0 808.1,517.8 C810.5,523.6 813.9,528.8 817.3,534.3 C820.7,539.8 824.6,545.7 828.3,550.9 C832.0,556.1 835.4,561.0 839.4,565.6 C843.4,570.2 846.8,574.0 852.0,578.5 C857.2,583.0 863.4,587.6 870.5,592.6 C877.6,597.6 886.3,603.4 894.7,608.8 C903.1,614.2 913.2,620.3 921.0,625.0 C928.8,629.7 936.2,632.4 941.3,637.1 C946.4,641.8 948.7,647.6 951.4,653.3 C954.1,659.0 955.1,665.4 957.5,671.5 C959.9,677.6 963.0,685.7 965.9,690.0 C968.8,694.3 971.4,694.9 974.7,697.4 C978.0,699.9 982.1,701.9 985.8,704.7 C989.5,707.5 993.7,711.5 996.8,714.3 C999.9,717.1 1002.4,719.3 1004.2,721.6 C1006.0,723.9 1006.7,725.9 1007.8,728.3 C1008.9,730.7 1010.3,732.7 1010.8,736.0 C1011.2,739.3 1010.5,744.6 1010.5,748.0 C1010.5,751.4 1010.2,753.7 1010.5,756.2 C1010.8,758.7 1012.2,761.9 1012.5,763.0" stroke-width="4.6"/><path d="M966.0,609.0 C967.9,610.1 973.4,613.9 977.1,615.9 C980.8,617.9 984.4,618.6 988.1,621.1 C991.8,623.6 995.5,626.8 999.2,630.6 C1002.9,634.4 1007.2,639.9 1010.2,643.9 C1013.2,647.9 1015.7,651.7 1017.5,654.9 C1019.3,658.1 1020.0,660.6 1021.0,663.0 C1022.0,665.4 1022.8,666.4 1023.7,669.2 C1024.6,672.0 1026.0,676.5 1026.5,680.0 C1027.0,683.5 1026.9,686.7 1026.8,690.0 C1026.7,693.3 1026.6,695.8 1026.0,700.0 C1025.4,704.2 1023.9,710.3 1023.0,715.0 C1022.1,719.7 1021.1,723.5 1020.5,728.0 C1019.9,732.5 1019.8,737.3 1019.5,742.0 C1019.2,746.7 1019.2,752.2 1019.0,756.0 C1018.8,759.8 1018.6,763.5 1018.5,765.0" stroke-width="4.6"/><path d="M844.5,396.8 C845.2,397.7 847.3,398.4 848.6,402.0 C849.9,405.6 850.4,411.1 852.2,418.4 C854.0,425.7 856.8,437.4 859.6,446.0 C862.4,454.6 865.4,462.2 868.8,469.9 C872.2,477.6 875.2,484.6 879.8,492.0 C884.4,499.4 890.6,507.1 896.4,514.1 C902.2,521.1 908.5,527.6 914.8,534.3 C921.1,540.9 927.2,547.5 934.0,554.0 C940.8,560.5 950.1,567.8 955.4,573.0 C960.7,578.2 962.4,581.4 966.0,585.0 C969.6,588.6 972.8,590.9 977.1,594.6 C981.4,598.3 986.9,602.6 991.8,607.1 C996.7,611.6 1002.2,616.9 1006.5,621.8 C1010.8,626.7 1014.7,632.1 1017.5,636.5 C1020.3,640.9 1021.9,644.1 1023.5,648.0 C1025.2,651.9 1025.7,655.7 1027.4,660.0 C1029.1,664.3 1032.0,669.5 1033.8,673.8 C1035.6,678.1 1036.4,681.9 1038.4,685.7 C1040.4,689.5 1043.1,692.6 1045.7,696.8 C1048.3,700.9 1051.1,706.0 1054.0,710.6 C1056.9,715.2 1059.7,719.8 1063.2,724.4 C1066.7,729.0 1070.9,733.9 1075.2,738.2 C1079.5,742.5 1084.9,746.5 1089.0,750.1 C1093.1,753.7 1096.8,757.2 1100.0,760.0 C1103.2,762.8 1102.9,763.2 1108.3,766.7 C1113.7,770.2 1123.8,776.1 1132.2,781.1 C1140.6,786.1 1152.6,792.7 1158.6,796.7 C1164.6,800.7 1165.1,802.1 1168.3,805.1 C1171.5,808.1 1174.4,811.2 1178.0,814.7 C1181.6,818.2 1187.0,823.0 1190.0,826.3 C1193.0,829.5 1194.0,831.7 1196.0,834.2 C1198.0,836.7 1200.1,838.7 1202.2,841.2 C1204.3,843.7 1206.7,846.6 1208.6,849.0 C1210.5,851.4 1212.5,853.2 1213.8,855.4 C1215.1,857.5 1215.7,859.6 1216.4,861.9 C1217.2,864.1 1217.6,866.4 1218.3,868.9 C1219.0,871.4 1220.1,874.7 1220.5,877.0 C1220.9,879.3 1220.8,881.6 1220.9,882.5" stroke-width="4.6"/><path d="M1015.0,765.0 C1015.4,765.3 1014.6,765.2 1017.4,766.7 C1020.2,768.2 1025.3,771.1 1031.7,773.9 C1038.1,776.7 1047.6,781.3 1055.6,783.5 C1063.6,785.7 1071.6,785.5 1079.6,787.1 C1087.6,788.7 1095.2,789.7 1103.5,793.0 C1111.8,796.3 1122.1,802.8 1129.7,807.0 C1137.3,811.2 1144.2,815.2 1149.0,818.0 C1153.8,820.8 1155.4,822.0 1158.6,823.7 C1161.8,825.4 1165.3,826.4 1168.3,828.3 C1171.3,830.1 1174.0,832.6 1176.4,834.8 C1178.8,836.9 1180.8,839.1 1182.9,841.2 C1185.1,843.4 1187.2,845.6 1189.3,847.7 C1191.4,849.9 1193.6,852.1 1195.8,854.1 C1198.0,856.1 1200.1,858.1 1202.2,859.9 C1204.3,861.7 1206.4,863.2 1208.6,865.1 C1210.8,867.0 1213.4,869.4 1215.1,871.5 C1216.8,873.6 1217.9,876.2 1218.9,878.0 C1219.9,879.8 1220.6,881.8 1220.9,882.5" stroke-width="4.6"/><path d="M371.1,532.4 C372.6,532.8 376.4,532.5 380.0,534.9 C383.6,537.2 389.2,541.8 392.7,546.5 C396.2,551.2 398.9,557.4 401.0,563.0 C403.1,568.6 404.4,574.3 405.0,580.0 C405.6,585.7 405.0,591.7 404.5,597.0 C404.0,602.3 403.0,607.5 402.0,612.0 C401.0,616.5 400.1,619.3 398.6,624.0 C397.1,628.7 395.4,634.7 393.0,640.0 C390.6,645.3 387.0,651.1 384.3,656.0 C381.6,660.9 378.8,665.4 376.6,669.5 C374.4,673.6 372.2,677.2 371.0,680.5 C369.8,683.8 369.1,686.8 369.5,689.4 C369.9,692.0 371.1,694.6 373.2,696.0 C375.3,697.4 379.0,697.8 382.0,697.5 C385.0,697.2 387.7,696.0 391.0,694.0 C394.3,692.0 398.3,688.5 402.0,685.2 C405.7,681.9 409.4,677.5 413.1,674.2 C416.8,670.9 420.5,669.0 424.2,665.3 C427.9,661.6 431.5,656.1 435.2,652.1 C438.9,648.1 442.5,644.7 446.2,641.0 C449.9,637.3 453.3,634.5 457.3,630.0 C461.3,625.5 465.8,619.3 470.4,614.0 C475.0,608.7 479.9,603.2 485.0,598.0 C490.1,592.8 494.9,588.5 500.7,582.5 C506.5,576.5 513.5,568.6 520.0,562.0 C526.5,555.4 534.7,548.2 540.0,542.9 C545.3,537.6 548.3,534.0 551.6,530.0 C554.9,526.0 556.8,523.4 560.0,519.0 C563.2,514.6 567.7,507.9 571.0,503.7 C574.3,499.4 575.7,498.2 580.0,493.5 C584.3,488.8 590.9,482.4 596.8,475.5 C602.7,468.6 609.1,459.5 615.2,452.0 C621.3,444.5 627.5,437.3 633.6,430.3 C639.7,423.3 645.9,416.9 652.0,410.0 C658.1,403.1 664.3,395.6 670.4,389.0 C676.5,382.4 683.3,375.4 688.8,370.5 C694.3,365.6 699.8,361.8 703.5,359.8 C707.2,357.8 709.7,358.6 710.9,358.4" stroke-width="4.6"/><path d="M696.2,399.5 C695.4,400.1 693.6,401.3 691.4,402.8 C689.2,404.3 686.3,405.7 683.1,408.3 C679.9,410.9 675.8,414.8 672.1,418.2 C668.4,421.6 664.7,425.1 661.0,428.7 C657.3,432.3 653.7,436.1 650.0,439.7 C646.3,443.2 642.6,446.6 639.0,450.0 C635.4,453.4 631.9,456.5 628.6,460.0 C625.3,463.5 622.2,467.4 619.0,470.9 C615.8,474.4 612.5,477.6 609.3,481.2 C606.1,484.8 602.9,488.8 599.7,492.2 C596.5,495.6 593.3,498.3 590.0,501.9 C586.7,505.5 583.4,509.5 580.0,514.0 C576.6,518.5 573.8,523.3 569.6,529.0 C565.4,534.7 559.9,541.6 555.0,548.0 C550.1,554.4 544.8,561.3 540.0,567.3 C535.2,573.3 530.6,578.5 526.0,584.0 C521.4,589.5 516.9,595.4 512.5,600.0 C508.1,604.6 503.4,608.0 499.7,611.6 C495.9,615.2 493.3,618.8 490.0,621.9 C486.7,625.0 484.2,626.6 480.0,630.5 C475.8,634.4 469.9,639.8 464.9,645.2 C459.9,650.6 454.2,658.3 449.9,663.1 C445.6,667.9 442.6,670.8 438.9,674.2 C435.2,677.6 431.5,680.5 427.8,683.7 C424.1,686.9 420.5,690.2 416.8,693.3 C413.1,696.4 409.5,699.3 405.8,702.1 C402.1,704.9 398.2,707.8 394.7,710.0 C391.2,712.2 388.1,714.2 385.0,715.5 C381.9,716.8 378.9,717.6 376.0,718.0 C373.1,718.4 370.2,718.9 367.3,718.0 C364.4,717.1 360.7,715.2 358.5,712.5 C356.3,709.8 354.4,705.4 354.0,702.0 C353.6,698.6 354.6,694.7 356.3,692.0 C358.0,689.3 361.7,687.7 364.0,686.0 C366.3,684.3 369.0,682.7 370.0,682.0" stroke-width="5.0"/><path d="M692.5,429.5 C691.4,429.9 688.4,430.6 685.9,432.0 C683.4,433.4 680.8,435.3 677.6,438.1 C674.4,440.9 670.3,445.0 666.6,448.6 C662.9,452.2 658.6,456.4 655.5,460.0 C652.4,463.6 650.9,466.6 648.0,470.0 C645.1,473.4 641.5,477.0 638.3,480.5 C635.1,484.0 631.8,487.4 628.6,491.0 C625.4,494.6 622.2,498.3 619.0,501.9 C615.8,505.5 612.8,508.1 609.3,512.8 C605.8,517.5 601.5,524.5 598.0,530.0 C594.5,535.5 591.5,541.3 588.3,546.1 C585.1,550.9 582.4,554.2 578.6,559.0 C574.9,563.8 571.2,568.3 565.8,575.1 C560.4,581.9 551.1,593.7 546.0,600.0 C540.9,606.3 538.5,608.6 535.1,612.9 C531.7,617.2 528.6,621.7 525.4,625.8 C522.2,629.9 519.0,633.4 515.8,637.3 C512.6,641.1 509.3,645.1 506.1,648.9 C502.9,652.7 499.1,656.4 496.4,659.9 C493.7,663.4 492.7,666.3 489.7,670.0 C486.7,673.7 482.3,677.8 478.6,682.1 C474.9,686.4 471.3,691.9 467.6,695.9 C463.9,699.9 460.3,702.4 456.6,705.9 C452.9,709.4 449.1,712.7 445.5,716.9 C441.9,721.1 439.0,726.7 434.9,731.0 C430.8,735.3 425.7,738.8 421.1,742.5 C416.5,746.2 411.9,749.7 407.3,753.0 C402.7,756.3 398.1,759.5 393.5,762.2 C388.9,764.9 384.3,767.0 379.7,769.1 C375.1,771.2 370.5,773.5 365.9,774.6 C361.3,775.8 356.5,776.5 352.1,776.0 C347.7,775.5 343.4,774.1 339.7,771.8 C336.0,769.5 332.8,765.9 330.0,762.2 C327.2,758.5 324.7,754.1 323.1,749.7 C321.5,745.3 320.4,740.5 320.4,735.9 C320.4,731.3 321.7,726.7 323.1,722.1 C324.5,717.5 327.0,712.9 328.7,708.3 C330.4,703.7 332.8,699.1 333.5,694.5 C334.2,689.9 332.8,685.5 332.8,680.7 C332.8,676.0 332.6,670.0 333.5,666.0 C334.4,662.0 335.9,659.3 338.0,657.0 C340.1,654.7 343.0,653.3 346.0,652.0 C349.0,650.7 353.4,650.3 356.2,649.2 C359.0,648.1 360.7,647.2 363.0,645.5 C365.3,643.8 368.8,640.2 370.0,639.2" stroke-width="5.2"/><path d="M371.1,532.4 C369.7,533.9 364.5,538.0 362.9,541.5 C361.2,545.0 360.9,548.4 361.2,553.1 C361.5,557.8 363.5,564.2 364.5,569.7 C365.5,575.2 367.0,580.9 367.0,586.0 C367.0,591.1 366.6,595.9 364.5,600.5 C362.4,605.1 357.6,609.3 354.4,613.8 C351.2,618.3 348.3,623.3 345.2,627.6 C342.1,631.9 339.0,635.4 336.0,639.5 C333.0,643.6 329.6,647.8 327.0,652.0 C324.4,656.2 322.9,660.4 320.5,664.5 C318.1,668.6 314.8,673.2 312.6,676.6 C310.4,680.0 308.8,682.0 307.1,684.8 C305.5,687.5 304.0,690.3 302.7,693.1 C301.4,695.9 300.2,698.6 299.3,701.4 C298.4,704.2 297.7,706.6 297.1,709.7 C296.5,712.8 296.2,715.7 295.8,720.0 C295.4,724.3 294.6,729.9 294.8,735.5 C295.0,741.1 295.4,748.5 296.9,753.9 C298.4,759.3 300.8,763.8 303.8,767.7 C306.8,771.6 310.7,774.5 314.8,777.3 C318.9,780.0 323.6,782.1 328.7,784.2 C333.8,786.3 340.1,788.4 345.2,789.8 C350.2,791.2 354.4,792.3 359.0,792.5 C363.6,792.7 369.1,791.5 372.8,790.8 C376.5,790.1 378.2,789.2 381.1,788.5 C384.0,787.8 386.9,787.0 390.0,786.3 C393.1,785.6 396.9,785.3 400.0,784.5 C403.1,783.7 404.2,783.3 408.3,781.5 C412.4,779.7 419.3,776.7 424.8,773.5 C430.3,770.3 435.9,766.8 441.4,762.5 C446.9,758.2 452.4,752.9 457.9,748.0 C463.4,743.1 469.1,737.9 474.5,733.1 C479.9,728.3 485.4,723.1 490.0,719.0 C494.6,714.9 498.1,711.9 502.0,708.5 C505.9,705.1 510.3,701.8 513.7,698.5 C517.2,695.2 519.7,692.2 522.7,689.0 C525.8,685.8 529.1,682.2 532.0,679.0 C534.9,675.8 537.0,673.5 540.2,670.0 C543.4,666.5 547.9,661.7 551.2,658.0 C554.5,654.3 556.9,651.2 560.0,647.6 C563.1,644.0 566.4,640.9 570.0,636.5 C573.6,632.1 576.7,627.0 581.7,621.4 C586.7,615.8 595.0,608.0 600.0,603.0 C605.0,598.0 608.2,594.7 612.0,591.1 C615.8,587.5 619.1,584.7 622.5,581.5 C625.9,578.3 629.0,575.3 632.2,571.9 C635.4,568.5 638.7,564.3 641.9,560.9 C645.1,557.5 648.3,554.4 651.5,551.2 C654.7,548.0 658.1,544.9 661.2,541.6 C664.3,538.3 667.4,534.9 670.2,531.5 C673.0,528.1 675.0,524.3 677.9,521.2 C680.8,518.1 684.3,515.7 687.5,512.8 C690.7,509.9 694.0,506.9 697.2,503.8 C700.4,500.7 703.7,497.1 706.9,494.1 C710.1,491.1 713.3,488.5 716.5,485.8 C719.7,483.1 723.1,480.3 726.2,478.0 C729.3,475.7 732.4,473.7 735.0,471.8 C737.6,469.9 739.3,468.4 742.0,466.5 C744.7,464.6 748.6,462.3 751.3,460.3 C753.9,458.3 756.8,455.6 757.9,454.7" stroke-width="5.2"/><path d="M587.0,548.0 C588.8,546.8 594.2,543.0 598.0,540.5 C601.8,538.0 606.0,536.1 610.0,533.2 C614.0,530.3 618.6,525.9 622.2,523.1 C625.9,520.4 628.7,518.7 631.9,516.7 C635.1,514.7 639.2,511.8 641.5,510.9 C643.8,509.9 644.1,510.2 645.4,511.0 C646.6,511.8 648.4,513.3 649.0,515.5 C649.6,517.7 649.4,521.6 649.0,524.0 C648.6,526.4 647.6,527.4 646.4,530.0 C645.2,532.6 643.7,536.5 641.9,539.7 C640.1,542.9 637.5,546.1 635.4,549.3 C633.2,552.5 631.1,555.8 629.0,559.0 C626.9,562.2 624.6,565.4 622.5,568.6 C620.4,571.8 618.2,575.1 616.1,578.3 C614.0,581.5 611.7,585.0 609.7,588.0 C607.7,591.0 605.0,594.7 604.0,596.0" stroke-width="4.6"/><path d="M364.7,544.9 C365.1,547.5 365.9,555.3 366.9,560.3 C367.9,565.3 369.1,570.5 370.6,575.0 C372.1,579.5 374.1,583.7 375.8,587.6 C377.5,591.5 380.0,596.8 380.9,598.6" stroke-width="4"/><path d="M380.9,539.7 C381.9,542.2 385.1,549.5 386.8,554.4 C388.5,559.3 390.2,564.3 391.2,569.2 C392.2,574.1 392.7,579.6 392.7,583.9 C392.7,588.2 391.4,593.1 391.2,595.0" stroke-width="4"/><path d="M372.1,536.0 C373.1,538.8 376.3,547.5 378.0,553.0 C379.7,558.5 381.2,564.1 382.4,569.2 C383.6,574.4 384.6,579.4 385.3,583.9 C386.0,588.4 386.6,594.0 386.8,596.0" stroke-width="3.5"/><path d="M372.0,600.0 C374.8,597.8 378.8,597.3 382.0,597.5 C385.2,597.7 388.7,598.6 391.0,601.0 C393.3,603.4 395.5,607.8 396.0,612.0 C396.5,616.2 395.7,622.0 394.0,626.0 C392.3,630.0 389.0,633.7 386.0,636.0 C383.0,638.3 379.0,640.0 376.0,640.0 C373.0,640.0 370.0,638.5 368.0,636.0 C366.0,633.5 364.5,629.2 364.0,625.0 C363.5,620.8 363.7,615.2 365.0,611.0 C366.3,606.8 369.2,602.2 372.0,600.0Z" stroke-width="4.6"/><path d="M369.0,639.0 C369.5,640.8 371.5,646.2 372.0,650.0 C372.5,653.8 372.3,658.3 372.0,662.0 C371.7,665.7 370.5,668.7 370.0,672.0 C369.5,675.3 369.2,680.3 369.0,682.0" stroke-width="4.6"/><path d="M655.5,176.5 L655.7,176.9 L655.9,177.4 L656.1,177.8 L656.3,178.2 L656.5,178.7 L656.7,179.1 L656.9,179.5 L657.1,179.9 L657.3,180.4 L657.5,180.8 L657.7,181.2 L657.9,181.7 L658.1,182.1 L658.3,182.5 L658.5,183.0 L658.7,183.4 L658.9,183.8 L659.1,184.3 L659.3,184.7 L659.4,185.1 L659.6,185.5 L659.8,186.0 L660.0,186.4 L660.2,186.8 L660.4,187.3 L660.6,187.7 L660.8,188.1 L661.0,188.6 L661.2,189.0 L661.4,189.4 L661.6,189.9 L661.8,190.3 L662.0,190.7 L662.2,191.1 L662.4,191.6 L662.6,192.0 L662.8,192.4 L663.0,192.9 L663.2,193.3 L663.4,193.7 L663.6,194.2 L663.8,194.6 L664.0,195.0 L664.2,195.4 L664.4,195.9 L664.6,196.3 L664.8,196.7 L665.0,197.2 L665.2,197.6 L665.4,198.0 L665.6,198.5 L665.8,198.9 L666.0,199.3 L666.2,199.7 L666.4,200.2 L666.6,200.6 L666.8,201.0 L667.0,201.5 L667.2,201.9 L667.4,202.3 L667.6,202.7 L667.9,203.2 L668.1,203.6 L668.3,204.0 L668.5,204.4 L668.7,204.8 L668.9,205.3 L669.2,205.7 L669.4,206.1 L669.6,206.5 L669.8,206.9 L670.0,207.4 L670.3,207.8 L670.5,208.2 L670.7,208.6 L670.9,209.0 L671.1,209.5 L671.3,209.9 L671.6,210.3 L671.8,210.7 L672.0,211.1 L672.2,211.6 L672.4,212.0 L672.7,212.4 L672.9,212.8 L673.1,213.2 L673.3,213.7 L673.5,214.1 L673.7,214.5 L674.0,214.9 L674.2,215.3 L674.5,215.7 L674.7,216.1 L675.0,216.5 L675.2,216.9 L675.5,217.3 L675.8,217.7 L676.0,218.1 L676.3,218.5 L676.5,218.9 L676.8,219.3 L677.0,219.7 L677.3,220.1 L677.5,220.5 L677.8,220.9 L678.1,221.3 L678.3,221.7 L678.6,222.1 L678.8,222.5 L679.1,222.9 L679.3,223.3 L679.6,223.7 L679.9,224.1 L680.1,224.5 L680.4,224.9 L680.6,225.3 L680.9,225.7 L681.1,226.1 L681.4,226.5 L681.6,226.9 L681.9,227.3 L682.2,227.7 L682.4,228.1 L682.7,228.5 L682.9,228.9 L683.2,229.2 L683.5,229.6 L683.9,229.9 L684.2,230.3 L684.5,230.7 L684.8,231.0 L685.1,231.4 L685.5,231.7 L685.8,232.1 L686.1,232.4 L686.4,232.8 L686.7,233.1 L687.1,233.5 L687.4,233.8 L687.7,234.2 L688.0,234.5 L688.3,234.9 L688.6,235.2 L689.0,235.6 L689.3,235.9 L689.6,236.3 L689.9,236.6 L690.2,237.0 L690.6,237.3 L690.9,237.7 L691.2,238.0 L691.5,238.4 L691.8,238.7 L692.2,239.1 L692.5,239.4 L692.8,239.8 L693.1,240.1 L693.5,240.4 L693.8,240.7 L694.2,241.1 L694.5,241.4 L694.9,241.7 L695.2,242.0 L695.6,242.3 L695.9,242.6 L696.3,243.0 L696.6,243.3 L697.0,243.6 L697.3,243.9 L697.7,244.2 L698.0,244.5 L698.4,244.9 L698.8,245.2 L699.1,245.5 L699.5,245.8 L699.8,246.1 L700.2,246.4 L700.5,246.8 L700.9,247.1 L701.2,247.4 L701.6,247.7 L701.9,248.0 L702.3,248.3 L702.6,248.7 L703.0,249.0 L703.4,249.3 L703.7,249.6 L704.1,249.9 L704.5,250.1 L704.9,250.4 L705.2,250.7 L705.6,251.0 L706.0,251.3 L706.4,251.6 L706.7,251.9 L707.1,252.2 L707.5,252.5 L707.9,252.8 L708.2,253.0 L708.6,253.3 L709.0,253.6 L709.4,253.9 L709.7,254.2 L710.1,254.5 L710.5,254.8 L710.9,255.1 L711.2,255.4 L711.6,255.6 L712.0,255.9 L712.4,256.2 L712.7,256.5 L713.1,256.8 L713.5,257.1 L713.9,257.4 L714.2,257.6 L714.6,257.9 L715.1,258.1 L715.5,258.4 L715.9,258.6 L716.3,258.9 L716.7,259.1 L717.1,259.4 L717.5,259.6 L717.9,259.9 L718.3,260.1 L718.7,260.4 L719.1,260.6 L719.5,260.9 L719.9,261.1 L720.3,261.3 L720.7,261.6 L721.1,261.8 L721.5,262.1 L721.9,262.3 L722.3,262.6 L722.7,262.8 L723.1,263.1 L723.6,263.3 L724.0,263.6 L724.4,263.8 L724.8,264.1 L725.2,264.3 L725.6,264.5 L726.0,264.7 L726.5,264.9 L726.9,265.0 L727.4,265.2 L727.8,265.3 L728.3,265.5 L728.7,265.7 L729.2,265.8 L729.6,266.0 L730.0,266.1 L730.5,266.3 L730.9,266.5 L731.4,266.6 L731.8,266.8 L732.3,266.9 L732.7,267.1 L733.2,267.3 L733.6,267.4 L734.1,267.6 L734.5,267.7 L734.9,267.9 L735.4,268.1 L735.8,268.2 L736.3,268.4 L736.7,268.5 L737.2,268.7 L737.6,268.9 L738.1,269.0 L738.5,269.1 L739.0,269.2 L739.5,269.3 L739.9,269.4 L740.4,269.5 L740.8,269.7 L741.3,269.8 L741.8,269.9 L742.2,270.0 L742.7,270.1 L743.2,270.2 L743.6,270.3 L744.1,270.4 L744.5,270.5 L745.0,270.6 L745.5,270.7 L745.9,270.8 L746.4,270.9 L746.8,271.0 L747.3,271.1 L747.8,271.3 L748.2,271.4 L748.7,271.5 L749.2,271.6 L749.6,271.7 L750.1,271.8 L750.5,271.9 L751.0,272.0" stroke-width="17.4" stroke-linecap="butt"/><rect x="653.4" y="177.8" width="9.3" height="8.6" rx="2.8" transform="rotate(65.4 658.1 182.1)" fill="#fff" stroke="none"/><rect x="658.8" y="189.4" width="9.3" height="8.6" rx="2.8" transform="rotate(65.2 663.4 193.7)" fill="#fff" stroke="none"/><rect x="664.3" y="201.0" width="9.3" height="8.6" rx="2.8" transform="rotate(62.6 668.9 205.3)" fill="#fff" stroke="none"/><rect x="670.6" y="212.6" width="9.3" height="8.6" rx="2.8" transform="rotate(57.3 675.2 216.9)" fill="#fff" stroke="none"/><rect x="677.5" y="223.4" width="9.3" height="8.6" rx="2.8" transform="rotate(57.3 682.2 227.7)" fill="#fff" stroke="none"/><rect x="685.9" y="233.0" width="9.3" height="8.6" rx="2.8" transform="rotate(47.7 690.6 237.3)" fill="#fff" stroke="none"/><rect x="695.2" y="241.8" width="9.3" height="8.6" rx="2.8" transform="rotate(42.0 699.8 246.1)" fill="#fff" stroke="none"/><rect x="705.1" y="249.9" width="9.3" height="8.6" rx="2.8" transform="rotate(37.7 709.7 254.2)" fill="#fff" stroke="none"/><rect x="716.1" y="257.3" width="9.3" height="8.6" rx="2.8" transform="rotate(31.3 720.7 261.6)" fill="#fff" stroke="none"/><rect x="727.6" y="262.6" width="9.3" height="8.6" rx="2.8" transform="rotate(19.8 732.3 266.9)" fill="#fff" stroke="none"/><rect x="739.9" y="266.2" width="9.3" height="8.6" rx="2.8" transform="rotate(13.0 744.5 270.5)" fill="#fff" stroke="none"/><path d="M823.5,418.0 L823.8,418.8 L824.1,419.6 L824.4,420.3 L824.6,421.1 L824.9,421.9 L825.2,422.7 L825.5,423.4 L825.8,424.2 L826.1,425.0 L826.3,425.8 L826.6,426.5 L826.9,427.3 L827.2,428.1 L827.5,428.9 L827.8,429.6 L828.0,430.4 L828.3,431.2 L828.6,432.0 L828.9,432.8 L829.1,433.6 L829.3,434.4 L829.5,435.1 L829.7,435.9 L830.0,436.7 L830.2,437.5 L830.4,438.3 L830.6,439.1 L830.9,439.9 L831.1,440.7 L831.3,441.5 L831.5,442.3 L831.8,443.1 L832.0,443.9 L832.2,444.7 L832.4,445.5 L832.6,446.3 L832.9,447.1 L833.1,447.9 L833.3,448.7 L833.5,449.5 L833.8,450.3 L834.0,451.1 L834.2,451.9 L834.4,452.6 L834.7,453.4 L834.9,454.2 L835.2,455.0 L835.4,455.8 L835.6,456.6 L835.9,457.4 L836.1,458.2 L836.4,459.0 L836.6,459.8 L836.8,460.6 L837.1,461.4 L837.3,462.1 L837.6,462.9 L837.8,463.7 L838.0,464.5 L838.3,465.3 L838.6,466.1 L838.9,466.8 L839.2,467.6 L839.4,468.4 L839.7,469.2 L840.0,470.0 L840.3,470.7 L840.5,471.5 L840.8,472.3 L841.1,473.1 L841.4,473.9 L841.7,474.6 L841.9,475.4 L842.2,476.2 L842.5,477.0 L842.8,477.7 L843.1,478.5 L843.4,479.3 L843.7,480.1 L844.0,480.8 L844.2,481.6 L844.5,482.4 L844.8,483.1 L845.1,483.9 L845.4,484.7 L845.7,485.5 L846.0,486.2 L846.3,487.0 L846.6,487.8 L846.9,488.6 L847.2,489.3 L847.5,490.1 L847.8,490.8 L848.2,491.6 L848.5,492.4 L848.8,493.1 L849.2,493.9 L849.5,494.6 L849.8,495.4 L850.1,496.2 L850.5,496.9 L850.8,497.7 L851.1,498.4 L851.5,499.2 L851.8,499.9 L852.1,500.7 L852.5,501.5 L852.8,502.2 L853.1,503.0 L853.4,503.7 L853.8,504.5 L854.1,505.2 L854.5,506.0 L854.9,506.7 L855.3,507.4 L855.7,508.1 L856.1,508.9 L856.5,509.6 L856.9,510.3 L857.3,511.1 L857.7,511.8 L858.0,512.5 L858.4,513.2 L858.8,514.0 L859.2,514.7 L859.6,515.4 L860.0,516.1 L860.4,516.9 L860.8,517.6 L861.2,518.3 L861.6,519.0 L862.1,519.7 L862.5,520.4 L863.0,521.1 L863.4,521.8 L863.9,522.5 L864.3,523.2 L864.8,523.9 L865.2,524.6 L865.6,525.3 L866.1,526.0 L866.5,526.7 L867.0,527.4 L867.4,528.1 L867.9,528.8 L868.3,529.5 L868.8,530.1 L869.3,530.8 L869.8,531.5 L870.3,532.1 L870.8,532.8 L871.2,533.5 L871.7,534.1 L872.2,534.8 L872.7,535.5 L873.2,536.1 L873.7,536.8 L874.2,537.5 L874.6,538.1 L875.1,538.8 L875.6,539.5 L876.1,540.1 L876.7,540.7 L877.2,541.4 L877.8,542.0 L878.3,542.6 L878.9,543.2 L879.5,543.8 L880.0,544.4 L880.6,545.0 L881.1,545.6 L881.7,546.3 L882.2,546.9 L882.8,547.5 L883.4,548.1 L883.9,548.7 L884.5,549.3 L885.0,549.9 L885.6,550.5 L886.1,551.1 L886.7,551.8 L887.2,552.4 L887.8,553.0 L888.4,553.6 L888.9,554.2 L889.5,554.8 L890.0,555.4 L890.6,556.0 L891.2,556.6 L891.7,557.2 L892.3,557.8 L892.8,558.5 L893.4,559.1 L893.9,559.7 L894.5,560.3 L895.1,560.9 L895.6,561.5 L896.2,562.1 L896.7,562.7 L897.3,563.3 L897.9,563.8 L898.6,564.4 L899.2,565.0 L899.8,565.5 L900.4,566.1 L901.0,566.6 L901.6,567.2 L902.2,567.7 L902.8,568.3 L903.4,568.9 L904.1,569.4 L904.7,570.0 L905.3,570.5 L905.9,571.1 L906.5,571.6 L907.1,572.2 L907.7,572.7 L908.4,573.3 L909.0,573.8 L909.7,574.3 L910.3,574.8 L911.0,575.3 L911.7,575.8 L912.3,576.2 L913.0,576.7 L913.7,577.2 L914.3,577.7 L915.0,578.2 L915.6,578.7 L916.3,579.2 L917.0,579.7 L917.6,580.2 L918.3,580.7 L918.9,581.2 L919.6,581.7 L920.3,582.2 L921.0,582.6 L921.7,583.0 L922.4,583.4 L923.1,583.8 L923.9,584.2 L924.6,584.7 L925.3,585.1 L926.0,585.5 L926.7,585.9 L927.4,586.3 L928.1,586.7 L928.9,587.1 L929.6,587.6 L930.3,588.0 L931.0,588.4 L931.7,588.8 L932.4,589.2 L933.1,589.6 L933.9,590.0 L934.6,590.5 L935.3,590.9 L936.0,591.3 L936.7,591.7 L937.5,592.1 L938.2,592.5 L938.9,592.9 L939.6,593.3 L940.3,593.7 L941.1,594.1 L941.8,594.5 L942.5,594.9 L943.2,595.3 L944.0,595.7 L944.7,596.1 L945.4,596.5 L946.1,596.9 L946.8,597.3 L947.6,597.7 L948.3,598.1 L949.0,598.5 L949.7,598.9 L950.5,599.3 L951.2,599.7 L951.9,600.1 L952.6,600.5 L953.4,600.9 L954.1,601.3 L954.8,601.7 L955.5,602.1 L956.3,602.5 L957.0,602.9 L957.7,603.3 L958.4,603.7 L959.2,604.1 L959.9,604.4 L960.7,604.8 L961.4,605.1 L962.2,605.4 L962.9,605.7 L963.7,606.0 L964.5,606.4 L965.2,606.7 L966.0,607.0" stroke-width="20.6" stroke-linecap="butt"/><rect x="820.8" y="417.7" width="9.4" height="11.4" rx="3.0" transform="rotate(69.9 825.5 423.4)" fill="#fff" stroke="none"/><rect x="825.0" y="430.2" width="9.4" height="11.4" rx="3.0" transform="rotate(74.4 829.7 435.9)" fill="#fff" stroke="none"/><rect x="828.6" y="443.0" width="9.4" height="11.4" rx="3.0" transform="rotate(74.4 833.3 448.7)" fill="#fff" stroke="none"/><rect x="832.4" y="455.7" width="9.4" height="11.4" rx="3.0" transform="rotate(73.2 837.1 461.4)" fill="#fff" stroke="none"/><rect x="836.4" y="467.4" width="9.4" height="11.4" rx="3.0" transform="rotate(70.3 841.1 473.1)" fill="#fff" stroke="none"/><rect x="841.0" y="479.8" width="9.4" height="11.4" rx="3.0" transform="rotate(69.2 845.7 485.5)" fill="#fff" stroke="none"/><rect x="846.1" y="492.0" width="9.4" height="11.4" rx="3.0" transform="rotate(66.4 850.8 497.7)" fill="#fff" stroke="none"/><rect x="851.8" y="503.9" width="9.4" height="11.4" rx="3.0" transform="rotate(61.7 856.5 509.6)" fill="#fff" stroke="none"/><rect x="857.8" y="514.7" width="9.4" height="11.4" rx="3.0" transform="rotate(57.5 862.5 520.4)" fill="#fff" stroke="none"/><rect x="865.1" y="525.8" width="9.4" height="11.4" rx="3.0" transform="rotate(54.0 869.8 531.5)" fill="#fff" stroke="none"/><rect x="873.1" y="536.3" width="9.4" height="11.4" rx="3.0" transform="rotate(47.7 877.8 542.0)" fill="#fff" stroke="none"/><rect x="881.4" y="545.4" width="9.4" height="11.4" rx="3.0" transform="rotate(47.6 886.1 551.1)" fill="#fff" stroke="none"/><rect x="890.4" y="555.2" width="9.4" height="11.4" rx="3.0" transform="rotate(47.5 895.1 560.9)" fill="#fff" stroke="none"/><rect x="900.0" y="564.3" width="9.4" height="11.4" rx="3.0" transform="rotate(42.3 904.7 570.0)" fill="#fff" stroke="none"/><rect x="910.3" y="572.5" width="9.4" height="11.4" rx="3.0" transform="rotate(36.9 915.0 578.2)" fill="#fff" stroke="none"/><rect x="920.6" y="579.4" width="9.4" height="11.4" rx="3.0" transform="rotate(30.2 925.3 585.1)" fill="#fff" stroke="none"/><rect x="932.0" y="586.0" width="9.4" height="11.4" rx="3.0" transform="rotate(29.4 936.7 591.7)" fill="#fff" stroke="none"/><rect x="943.6" y="592.4" width="9.4" height="11.4" rx="3.0" transform="rotate(28.8 948.3 598.1)" fill="#fff" stroke="none"/><rect x="955.2" y="598.7" width="9.4" height="11.4" rx="3.0" transform="rotate(25.7 959.9 604.4)" fill="#fff" stroke="none"/><path d="M618.0,553.0 C618.5,551.8 619.7,547.7 621.0,546.0 C622.3,544.3 624.8,544.3 626.0,543.0 C627.2,541.7 627.7,538.8 628.0,538.0" stroke-width="3.6"/><path d="M594.0,567.0 C594.8,566.0 597.5,562.2 599.0,561.0 C600.5,559.8 601.8,561.0 603.0,560.0 C604.2,559.0 605.5,555.8 606.0,555.0" stroke-width="3.6"/><path d="M586.0,585.0 C587.0,584.2 589.7,581.0 592.0,580.0 C594.3,579.0 597.3,579.8 600.0,579.0 C602.7,578.2 606.7,575.7 608.0,575.0" stroke-width="3.6"/><path d="M565.0,592.0 C565.5,591.0 566.5,587.8 568.0,586.0 C569.5,584.2 573.0,581.8 574.0,581.0" stroke-width="3.6"/><path d="M570.0,615.0 C570.7,614.0 572.0,610.7 574.0,609.0 C576.0,607.3 580.7,605.7 582.0,605.0" stroke-width="3.6"/><path d="M543.0,630.0 C543.8,628.8 546.0,625.2 548.0,623.0 C550.0,620.8 553.8,618.0 555.0,617.0" stroke-width="3.6"/><path d="M511.0,656.0 C512.2,654.8 516.2,650.0 518.0,649.0 C519.8,648.0 520.5,650.8 522.0,650.0 C523.5,649.2 526.2,645.0 527.0,644.0" stroke-width="3.6"/><path d="M537.0,656.0 C537.7,655.0 539.5,651.2 541.0,650.0 C542.5,648.8 544.3,649.7 546.0,649.0 C547.7,648.3 550.2,646.5 551.0,646.0" stroke-width="3.6"/><path d="M515.0,678.0 C515.5,676.8 517.0,673.3 518.0,671.0 C519.0,668.7 520.5,665.2 521.0,664.0" stroke-width="3.6"/><path d="M493.0,686.0 C493.8,685.0 496.8,681.8 498.0,680.0 C499.2,678.2 498.8,676.3 500.0,675.0 C501.2,673.7 504.2,672.5 505.0,672.0" stroke-width="3.6"/><path d="M460.0,728.0 C461.0,727.0 464.5,724.0 466.0,722.0 C467.5,720.0 467.5,717.7 469.0,716.0 C470.5,714.3 474.0,712.7 475.0,712.0" stroke-width="3.6"/><path d="M433.0,757.0 C434.2,755.8 438.2,752.0 440.0,750.0 C441.8,748.0 442.0,747.0 444.0,745.0 C446.0,743.0 450.7,739.2 452.0,738.0" stroke-width="3.6"/><path d="M414.0,764.0 C415.0,762.8 418.2,758.5 420.0,757.0 C421.8,755.5 423.2,756.5 425.0,755.0 C426.8,753.5 430.0,749.2 431.0,748.0" stroke-width="3.6"/><path d="M388.0,780.0 C389.2,779.0 393.0,775.3 395.0,774.0 C397.0,772.7 398.0,773.2 400.0,772.0 C402.0,770.8 405.8,767.8 407.0,767.0" stroke-width="3.6"/><path d="M371.0,785.0 C372.2,784.3 376.8,781.7 378.0,781.0" stroke-width="3.6"/><path d="M479.0,708.0 C479.8,707.0 482.5,703.8 484.0,702.0 C485.5,700.2 487.3,697.8 488.0,697.0" stroke-width="3.6"/>
</g>
<g fill="#222"><ellipse cx="379" cy="620" rx="5" ry="9.5" transform="rotate(25 379 620)"/><path d="M343,681 L358,664" stroke="#222" stroke-width="6" stroke-linecap="round"/><ellipse cx="447" cy="79.5" rx="10" ry="3.6" transform="rotate(-22 447 79.5)"/><ellipse cx="524.5" cy="74.5" rx="7.5" ry="3.6" transform="rotate(-12 524.5 74.5)"/><rect x="512.5" y="64" width="3" height="3"/><rect x="529" y="82" width="2.6" height="2.6"/><rect x="540" y="81" width="2.6" height="2.6"/><rect x="534" y="79.5" width="2.4" height="2.4"/><rect x="437" y="87" width="2.6" height="2.6"/><rect x="452" y="85" width="2.4" height="2.4"/><rect x="424" y="93" width="2.6" height="2.6"/><rect x="420" y="104" width="2.6" height="2.6"/><rect x="416" y="113" width="2.4" height="2.4"/></g>
<line x1="333.8" y1="30.2" x2="443" y2="77" stroke="#fff" stroke-width="11" stroke-linecap="butt"/><line x1="530.3" y1="73.4" x2="661.5" y2="28.6" stroke="#fff" stroke-width="11" stroke-linecap="butt"/><line x1="695.1" y1="229.8" x2="812" y2="181.4" stroke="#fff" stroke-width="11" stroke-linecap="butt"/><line x1="484" y1="266.1" x2="629.6" y2="193.4" stroke="#fff" stroke-width="11" stroke-linecap="butt"/><line x1="494.6" y1="694.3" x2="626.2" y2="690.2" stroke="#fff" stroke-width="11" stroke-linecap="butt"/><line x1="927.3" y1="802.9" x2="1007.8" y2="768.6" stroke="#fff" stroke-width="11" stroke-linecap="butt"/><line x1="333.8" y1="30.2" x2="443" y2="77" stroke="#222" stroke-width="3.6" stroke-linecap="butt"/><line x1="530.3" y1="73.4" x2="661.5" y2="28.6" stroke="#222" stroke-width="3.6" stroke-linecap="butt"/><line x1="695.1" y1="229.8" x2="812" y2="181.4" stroke="#222" stroke-width="3.6" stroke-linecap="butt"/><line x1="484" y1="266.1" x2="629.6" y2="193.4" stroke="#222" stroke-width="3.6" stroke-linecap="butt"/><line x1="494.6" y1="694.3" x2="626.2" y2="690.2" stroke="#222" stroke-width="3.6" stroke-linecap="butt"/><line x1="927.3" y1="802.9" x2="1007.8" y2="768.6" stroke="#222" stroke-width="3.6" stroke-linecap="butt"/>
<text x="-4.3" y="44.2" font-size="50.5" font-weight="400">Bulbe médian</text><text x="693.5" y="44.9" font-size="50.5" font-weight="400">Bulbe terminal</text><text x="849.2" y="189.3" font-size="50.5" font-weight="400">Utérus</text><text x="301.6" y="301" font-size="50.5" font-weight="400">Intestin</text><text x="657.2" y="710.7" font-size="50.5" font-weight="400">Testicules</text><text x="781.2" y="831.9" font-size="50.5" font-weight="400">Anus</text><text x="254" y="1068.6" font-size="17.6" font-weight="700">Livingstone © BIODIDAC</text>
</svg>
</body></html>
